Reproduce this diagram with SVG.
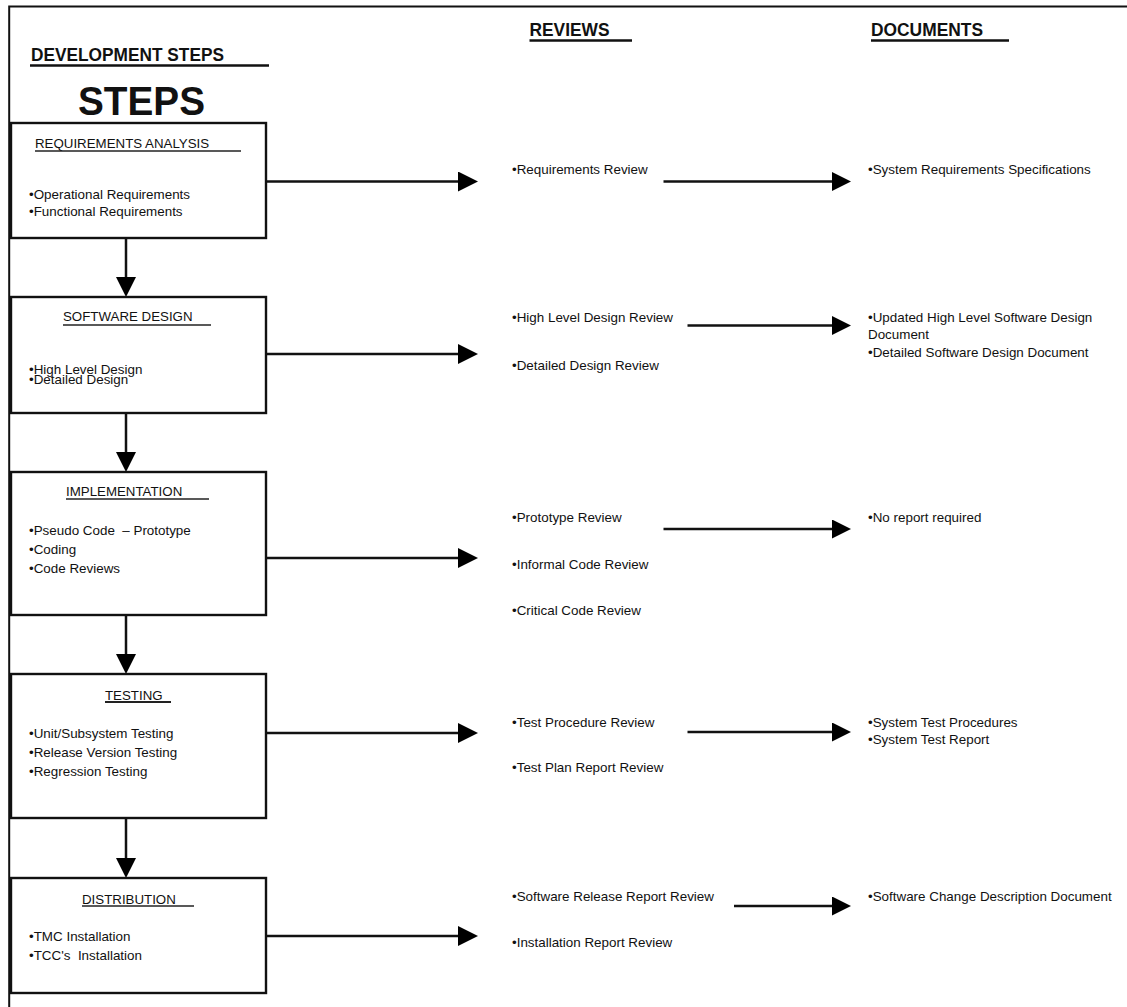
<svg xmlns="http://www.w3.org/2000/svg" width="1127" height="1007" viewBox="0 0 1127 1007">
<style>
  text { font-family: "Liberation Sans", Arial, sans-serif; fill: #111; }
  .hdr { font-weight: bold; font-size: 18.5px; }
  .big { font-weight: bold; font-size: 41px; }
  .ttl { font-size: 13.3px; }
  .txt { font-size: 13.4px; white-space: pre; }
  .box { fill: #fff; stroke: #111; stroke-width: 2.4; }
  .ul { stroke: #222; stroke-width: 1.3; }
  .hul { stroke: #111; stroke-width: 2.4; }
  .frame { stroke: #111; stroke-width: 2; fill: none; }
  .conn { stroke: #111; stroke-width: 2.5; fill: none; }
  .conn-big { marker-end: url(#ah); }
  .conn-small { marker-end: url(#ahs); }
</style>
<defs>
  <marker id="ah" markerUnits="userSpaceOnUse" markerWidth="20" markerHeight="20" refX="10" refY="10" orient="auto">
    <path d="M0,0L20,10L0,20z" fill="#000"/>
  </marker>
  <marker id="ahs" markerUnits="userSpaceOnUse" markerWidth="19" markerHeight="19" refX="9.5" refY="9.5" orient="auto">
    <path d="M0,0L19,9.5L0,19z" fill="#000"/>
  </marker>
</defs>
<rect width="1127" height="1007" fill="#fff"/>
<g id="frame">
  <path class="frame" d="M9.2,1007V6.5H1127"/>
</g>
<g id="headers">
  <text class="hdr" x="31" y="60.5" textLength="193" lengthAdjust="spacingAndGlyphs">DEVELOPMENT STEPS</text>
  <line class="hul" x1="30" y1="65.5" x2="269" y2="65.5"/>
  <text class="big" x="78" y="115" textLength="127" lengthAdjust="spacingAndGlyphs">STEPS</text>
  <text class="hdr" x="529.5" y="36" textLength="80" lengthAdjust="spacingAndGlyphs">REVIEWS</text>
  <line class="hul" x1="529.5" y1="40.5" x2="632" y2="40.5"/>
  <text class="hdr" x="871" y="36" textLength="112" lengthAdjust="spacingAndGlyphs">DOCUMENTS</text>
  <line class="hul" x1="871" y1="40.5" x2="1009" y2="40.5"/>
</g>
<g id="connectors">
  <line class="conn conn-big" x1="266" y1="181.5" x2="468" y2="181.5"/>
  <line class="conn conn-big" x1="266" y1="354" x2="468" y2="354"/>
  <line class="conn conn-big" x1="266" y1="558" x2="468" y2="558"/>
  <line class="conn conn-big" x1="266" y1="733" x2="468" y2="733"/>
  <line class="conn conn-big" x1="266" y1="936" x2="468" y2="936"/>
  <line class="conn conn-big" x1="126" y1="238" x2="126" y2="287"/>
  <line class="conn conn-big" x1="126" y1="413" x2="126" y2="462"/>
  <line class="conn conn-big" x1="126" y1="615" x2="126" y2="664"/>
  <line class="conn conn-big" x1="126" y1="818" x2="126" y2="868"/>
  <line class="conn conn-small" x1="663.5" y1="181.5" x2="841.5" y2="181.5"/>
  <line class="conn conn-small" x1="687.5" y1="325.5" x2="841.5" y2="325.5"/>
  <line class="conn conn-small" x1="663.5" y1="529" x2="841.5" y2="529"/>
  <line class="conn conn-small" x1="687.5" y1="732" x2="841.5" y2="732"/>
  <line class="conn conn-small" x1="734" y1="906" x2="841.5" y2="906"/>
</g>
<g id="node-requirements">
  <rect class="box" x="11" y="123" width="255" height="115"/>
  <text class="ttl" x="35" y="148">REQUIREMENTS ANALYSIS</text>
  <line class="ul" x1="35" y1="151" x2="241" y2="151"/>
  <text class="txt" x="29" y="199">•Operational Requirements</text>
  <text class="txt" x="29" y="216">•Functional Requirements</text>
</g>
<g id="node-design">
  <rect class="box" x="11" y="297" width="255" height="116"/>
  <text class="ttl" x="63" y="321">SOFTWARE DESIGN</text>
  <line class="ul" x1="63" y1="325" x2="211" y2="325"/>
  <text class="txt" x="29" y="373.5">•High Level Design</text>
  <text class="txt" x="29" y="384">•Detailed Design</text>
</g>
<g id="node-implementation">
  <rect class="box" x="11" y="472" width="255" height="143"/>
  <text class="ttl" x="66" y="496">IMPLEMENTATION</text>
  <line class="ul" x1="66" y1="499" x2="209" y2="499"/>
  <text class="txt" x="29" y="535">•Pseudo Code  – Prototype</text>
  <text class="txt" x="29" y="554">•Coding</text>
  <text class="txt" x="29" y="573">•Code Reviews</text>
</g>
<g id="node-testing">
  <rect class="box" x="11" y="674" width="255" height="144"/>
  <text class="ttl" x="105" y="700">TESTING</text>
  <line class="ul" x1="105" y1="702" x2="171" y2="702" style="stroke-width:2"/>
  <text class="txt" x="29" y="738">•Unit/Subsystem Testing</text>
  <text class="txt" x="29" y="757">•Release Version Testing</text>
  <text class="txt" x="29" y="776">•Regression Testing</text>
</g>
<g id="node-distribution">
  <rect class="box" x="11" y="878" width="255" height="115"/>
  <text class="ttl" x="82" y="904">DISTRIBUTION</text>
  <line class="ul" x1="82" y1="906" x2="194" y2="906"/>
  <text class="txt" x="29" y="941">•TMC Installation</text>
  <text class="txt" x="29" y="960">•TCC's  Installation</text>
</g>
<g id="reviews-requirements">
  <text class="txt" x="512" y="174">•Requirements Review</text>
</g>
<g id="reviews-design">
  <text class="txt" x="512" y="322">•High Level Design Review</text>
  <text class="txt" x="512" y="370">•Detailed Design Review</text>
</g>
<g id="reviews-implementation">
  <text class="txt" x="512" y="522">•Prototype Review</text>
  <text class="txt" x="512" y="569">•Informal Code Review</text>
  <text class="txt" x="512" y="615">•Critical Code Review</text>
</g>
<g id="reviews-testing">
  <text class="txt" x="512" y="727">•Test Procedure Review</text>
  <text class="txt" x="512" y="772">•Test Plan Report Review</text>
</g>
<g id="reviews-distribution">
  <text class="txt" x="512" y="901">•Software Release Report Review</text>
  <text class="txt" x="512" y="947">•Installation Report Review</text>
</g>
<g id="docs-requirements">
  <text class="txt" x="868" y="174">•System Requirements Specifications</text>
</g>
<g id="docs-design">
  <text class="txt" x="868" y="322">•Updated High Level Software Design</text>
  <text class="txt" x="868" y="339">Document</text>
  <text class="txt" x="868" y="357">•Detailed Software Design Document</text>
</g>
<g id="docs-implementation">
  <text class="txt" x="868" y="522">•No report required</text>
</g>
<g id="docs-testing">
  <text class="txt" x="868" y="727">•System Test Procedures</text>
  <text class="txt" x="868" y="744">•System Test Report</text>
</g>
<g id="docs-distribution">
  <text class="txt" x="868" y="901">•Software Change Description Document</text>
</g>
</svg>
